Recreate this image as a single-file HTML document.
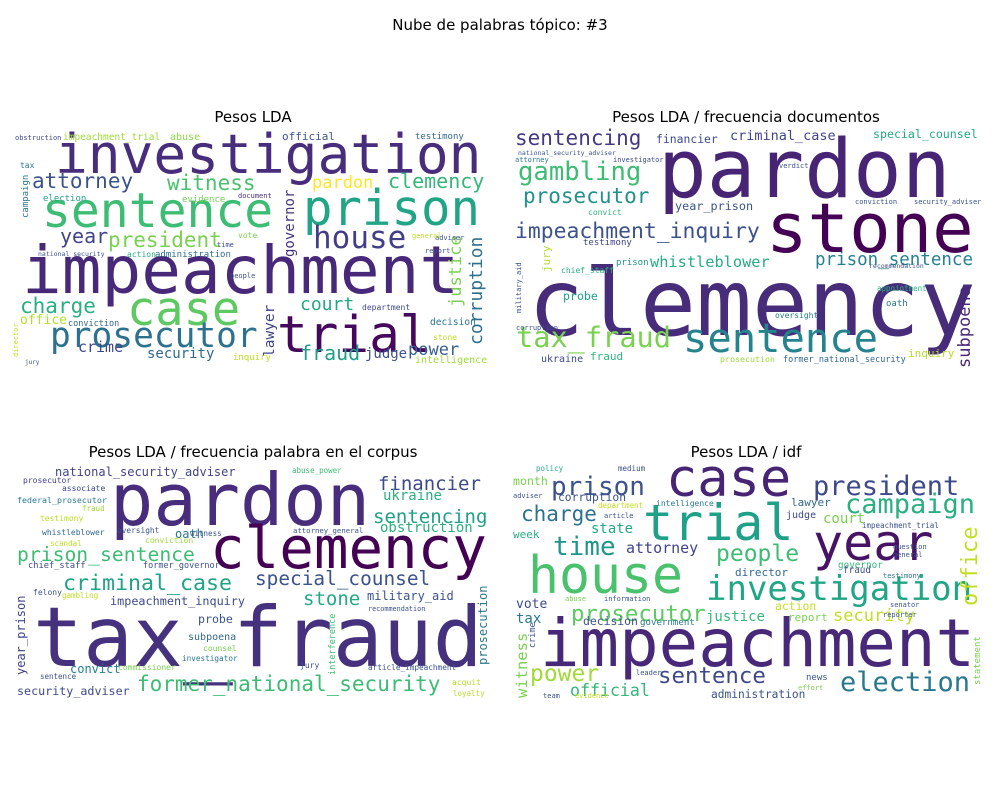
<!DOCTYPE html>
<html><head><meta charset="utf-8">
<style>
html,body{margin:0;padding:0;background:#fff;}
svg{display:block;}
.t{font-family:"DejaVu Sans","Liberation Sans",sans-serif;fill:#000;}
.w{font-family:"DejaVu Sans Mono","Liberation Mono",monospace;}
</style></head>
<body>
<svg id="fig" width="1000" height="800" viewBox="0 0 1000 800" xmlns="http://www.w3.org/2000/svg">
<rect width="1000" height="800" fill="#fff"/>
<text class="t" x="500" y="30" font-size="15" text-anchor="middle">Nube de palabras tópico: #3</text>
<text class="t" x="253" y="122" font-size="15" text-anchor="middle">Pesos LDA</text>
<text class="t" x="746" y="122" font-size="15" text-anchor="middle">Pesos LDA / frecuencia documentos</text>
<text class="t" x="253" y="457" font-size="15" text-anchor="middle">Pesos LDA / frecuencia palabra en el corpus</text>
<text class="t" x="746" y="457" font-size="15" text-anchor="middle">Pesos LDA / idf</text>
<g id="p1"></g>
<g id="p2"></g>
<g id="p3"></g>
<g id="p4"></g>
</svg>
<script>
// word|x|baselineY|fontSize|color|rotated
const wordsLDA = [
"investigation|55|173|54.5|#472d7b|0","sentence|42|227|48|#3dbc74|0","prison|303|225|49|#21a585|0",
"impeachment|22|293|66|#482878|0","case|127|325|47|#5ec962|0","trial|277|352|51|#46085c|0",
"prosecutor|50|347|34.5|#2c728e|0","house|313|248|31|#433e85|0","attorney|32|188|21|#3b528b|0",
"witness|167|190|21|#4ac16d|0","pardon|312|188|17|#fde725|0","clemency|388|188|20|#35b779|0",
"president|108|247|21|#7ad151|0","year|60|243|20|#414487|0","charge|20|313|21|#2ab07f|0",
"office|20|324|13|#b5de2b|0","crime|78|352|15|#3e4989|0","security|147|358|14|#31688e|0",
"court|300|310|18|#22a884|0","fraud|300|360|20|#1f9e89|0","judge|365|358|14|#3b528b|0",
"power|408|355|17|#355f8d|0","intelligence|415|363|10|#a0da39|0","decision|430|325|9.5|#2a788e|0",
"department|362|310|8|#3e4a89|0","justice|461|307|17|#7ad151|1","corruption|482|345|18|#2d708e|1",
"governor|294|257|14|#46337e|1","lawyer|274|357|14.5|#414487|1","campaign|28|218|9|#2a788e|1",
"director|18|357|7|#c2df23|1","obstruction|15|140|7|#3e4989|0","impeachment_trial|63|140|9.5|#a0da39|0",
"abuse|170|140|10|#8fd744|0","official|282|140|11|#3b528b|0","testimony|415|139|9|#31688e|0",
"tax|20|168|8|#2a788e|0","election|43|201|9|#20a386|0","evidence|182|202|9|#75d054|0",
"document|238|198|7|#46337e|0","vote|238|238|8|#7ad151|0","time|217|247|7|#3e4989|0",
"action|127|257|8|#2ab07f|0","administration|155|257|9|#2e6f8e|0","national_security|38|256|6.5|#3b528b|0",
"conviction|68|326|8.5|#31688e|0","inquiry|233|360|9|#c2df23|0","stone|433|340|8|#bddf26|0",
"people|230|278|7|#3b528b|0","jury|25|364|6|#3b528b|0","adviser|435|240|7|#3b528b|0",
"report|425|253|7|#3b528b|0","general|412|238|7|#bddf26|0"
];
const wordsDocFreq = [
"pardon|658|197|81|#482475|0","stone|766|252|69|#440154|0","clemency|528|335|93|#472c7a|0",
"sentence|683|352|40.5|#25838e|0","tax_fraud|516|347|28.6|#7ad151|0","impeachment_inquiry|515|238|21.4|#3b528b|0",
"prosecutor|523|203|21|#21918c|0","gambling|518|180|25.6|#3dbc74|0","sentencing|515|145|21|#443983|0",
"financier|656|143|11.4|#3e4989|0","criminal_case|730|140|13.5|#414487|0","special_counsel|873|138|11.6|#22a884|0",
"whistleblower|650|267|15.3|#26ad81|0","prison_sentence|815|265|17.5|#27808e|0","year_prison|675|210|11.8|#3b528b|0",
"probe|563|300|11.6|#1fa088|0","fraud|590|360|11|#2fb47c|0","ukraine|541|362|10|#3e4989|0",
"inquiry|908|357|11|#b5de2b|0","former_national_security|783|362|8.5|#31688e|0","prosecution|720|362|8.3|#a0da39|0",
"subpoena|970|368|17|#482878|1","jury|550|272|11|#b5de2b|1","military_aid|521|313|7|#3b528b|1",
"testimony|583|245|9|#414487|0","prison|616|265|9|#21918c|0","chief_staff|561|273|8|#2ab07f|0",
"convict|588|215|8|#35b779|0","national_security_adviser|518|155|6.5|#3b528b|0","attorney|515|162|7|#2a788e|0",
"investigator|613|162|7|#3e4989|0","corruption|516|330|7|#3b528b|0","oversight|775|318|8|#2a788e|0",
"appointment|877|291|7.5|#2ab07f|0","oath|886|306|9|#2a788e|0","recommendation|869|268|6.5|#3b528b|0",
"conviction|855|204|7|#3b528b|0","security_adviser|914|204|7|#3b528b|0","verdict|779|168|7|#3b528b|0"
];
const wordsCorpus = [
"pardon|110|525|72|#472d7b|0","clemency|210|568|57.5|#440154|0","tax_fraud|33|666|83|#46317e|0",
"former_national_security|137|691|21|#3dbc74|0","criminal_case|63|590|21.6|#20a386|0","prison_sentence|17|561|19.7|#3dbc74|0",
"special_counsel|255|585|19.4|#3b528b|0","stone|303|605|19|#22a884|0","sentencing|373|523|19|#1fa088|0",
"financier|378|490|19|#3e4989|0","national_security_adviser|55|476|12|#414487|0","ukraine|383|500|14|#2ab07f|0",
"obstruction|380|532|14|#2ab07f|0","military_aid|367|600|12|#3b528b|0","impeachment_inquiry|110|605|11.8|#3e4989|0",
"probe|198|623|11.6|#3b528b|0","subpoena|188|640|10|#31688e|0","convict|70|673|12|#26818e|0",
"security_adviser|17|695|11.7|#3e4989|0","oath|175|538|12|#2a788e|0","year_prison|25|675|12|#414487|1",
"prosecution|487|665|12|#2a788e|1","interference|335|675|8.5|#3dbc74|1","prosecutor|23|483|8|#414487|0",
"associate|62|491|8|#3e4989|0","federal_prosecutor|17|503|8.3|#2a788e|0","fraud|82|511|7.5|#a0da39|0",
"testimony|40|521|8|#bddf26|0","whistleblower|42|535|8|#31688e|0","oversight|117|533|7.8|#3b528b|0",
"witness|190|536|7.5|#3b528b|0","attorney_general|293|533|7.3|#3b528b|0","conviction|145|543|8|#a0da39|0",
"scandal|50|546|7.5|#bddf26|0","chief_staff|28|568|8.7|#3e4989|0","former_governor|143|568|8.5|#3b528b|0",
"felony|33|595|8|#3b528b|0","gambling|62|598|7.5|#bddf26|0","recommendation|368|611|6.8|#3b528b|0",
"commissioner|118|670|8|#7ad151|0","counsel|203|651|8|#7ad151|0","investigator|182|661|7.7|#2a788e|0",
"jury|300|668|8|#3b528b|0","article_impeachment|368|670|7.7|#3b528b|0","acquit|452|685|8|#b5de2b|0",
"loyalty|453|696|7.5|#b5de2b|0","sentence|40|679|7.5|#3b528b|0","abuse_power|292|473|7.5|#3dbc74|0"
];
const wordsIdf = [
"case|666|496|52|#482475|0","trial|643|540|50|#1fa088|0","year|813|560|50|#471365|0",
"house|528|593|51.5|#4ac16d|0","impeachment|540|666|65.7|#482878|0","investigation|706|600|34|#21a685|0",
"president|813|495|27|#3e4989|0","campaign|845|513|27|#2ab07f|0","prison|551|495|26|#3b528b|0",
"charge|521|521|21|#2c728e|0","time|553|555|26|#1f968b|0","people|716|561|23|#3dbc74|0",
"prosecutor|571|621|22.4|#5ec962|0","sentence|658|683|22.4|#3e4989|0","election|840|691|27|#2a788e|0",
"power|530|681|23|#a0da39|0","official|570|696|16.6|#35b779|0","attorney|626|553|15|#414487|0",
"state|591|533|14|#22a884|0","justice|706|621|14|#35b779|0","security|833|621|17|#c2df23|0",
"court|823|523|14|#7ad151|0","corruption|558|501|11.3|#3b528b|0","vote|516|608|13|#3e4989|0",
"tax|516|623|14|#2a788e|0","decision|583|625|11.4|#3b528b|0","government|640|625|9.1|#2a788e|0",
"administration|711|698|11.2|#3b528b|0","director|735|576|11|#31688e|0","governor|838|568|9.3|#35b779|0",
"fraud|843|573|9.3|#3e4989|0","month|513|485|11.6|#7ad151|0","week|513|538|11|#2ab07f|0",
"action|775|610|11.4|#c2df23|0","report|788|621|11|#7ad151|0","lawyer|791|506|11|#31688e|0",
"judge|786|518|10|#3e4989|0","intelligence|656|506|8|#2a788e|0","news|806|680|9|#3b528b|0",
"office|977|606|22|#c2df23|1","witness|527|698|15.5|#7ad151|1","crime|535|648|8.5|#3b528b|1",
"statement|980|685|9|#7ad151|1","medium|618|471|7.5|#3b528b|0","policy|536|471|7.5|#2ab07f|0",
"department|598|508|7.5|#c2df23|0","article|604|518|7|#3b528b|0","impeachment_trial|862|528|7.5|#3b528b|0",
"question|893|549|7|#3b528b|0","general|893|557|7|#3b528b|0","testimony|883|578|7|#2a788e|0",
"abuse|565|601|7|#7ad151|0","information|604|601|7|#3b528b|0","senator|890|607|7|#3b528b|0",
"reporter|883|617|7|#3b528b|0","leader|636|675|7|#3b528b|0","effort|798|690|7|#7ad151|0",
"evidence|575|698|7|#c2df23|0","team|543|698|7|#3b528b|0","adviser|513|498|7|#3b528b|0"
];
const SVGNS = "http://www.w3.org/2000/svg";
function draw(gid, list){
  const g = document.getElementById(gid);
  list.forEach(function(s){
    const p = s.split("|");
    const w = p[0], x = +p[1], y = +p[2], fs = +p[3], c = p[4], r = p[5] === "1";
    const t = document.createElementNS(SVGNS, "text");
    
    
    t.setAttribute("class","w");
    t.setAttribute("font-size", fs);
    t.setAttribute("fill", c);
    t.setAttribute("textLength", (0.602*fs*w.length).toFixed(1));
    t.setAttribute("lengthAdjust","spacingAndGlyphs");
    if (r) {
      t.setAttribute("transform","translate("+x+","+y+") rotate(-90)");
      t.setAttribute("x", 0); t.setAttribute("y", 0);
    } else {
      t.setAttribute("x", x); t.setAttribute("y", y);
    }
    t.textContent = w;
    g.appendChild(t);
  });
}
draw("p1", wordsLDA);
draw("p2", wordsDocFreq);
draw("p3", wordsCorpus);
draw("p4", wordsIdf);
</script>
</body></html>
